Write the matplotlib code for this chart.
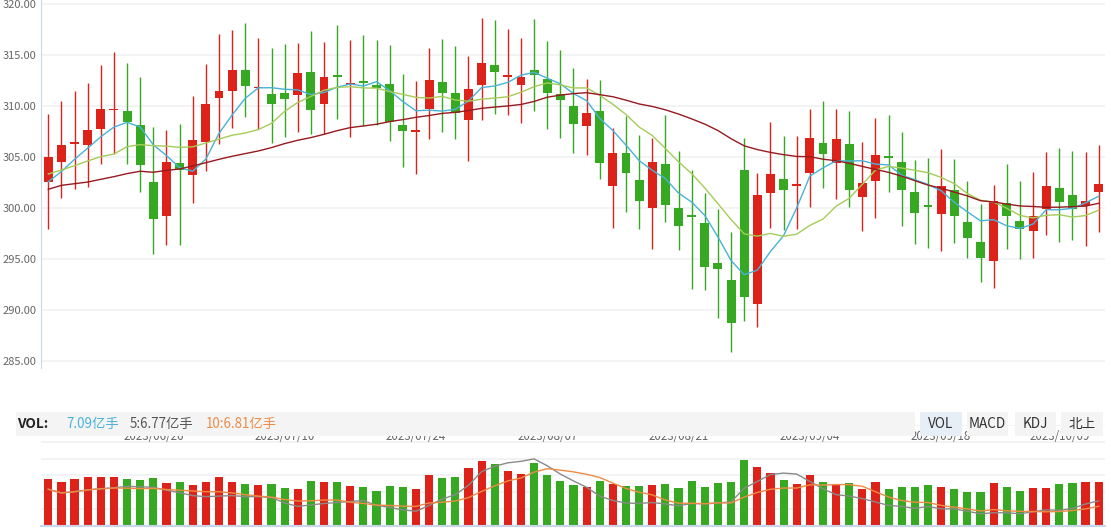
import matplotlib
matplotlib.use("Agg")
import matplotlib.pyplot as plt
import numpy as np
import pandas as pd
from matplotlib.patches import Rectangle

plt.rcParams['font.family'] = ['Noto Sans CJK SC', 'DejaVu Sans']

# daily candles (red = up, green = down)
opens = [302.6, 304.57, 306.35, 306.2, 307.8, 309.6, 309.55, 308.15, 302.55, 299.2,
         304.4, 303.3, 306.5, 310.85, 311.45, 313.55, 311.75, 311.25, 311.35, 311.15,
         313.35, 310.25, 313.05, 312.05, 312.35, 312.05, 312.2, 308.15, 307.45, 309.75,
         312.4, 311.3, 308.7, 312.05, 314.05, 312.9, 312.1, 313.55, 312.7, 311.25,
         310.05, 308.1, 309.55, 302.2, 305.4, 302.75, 300.0, 304.35, 300.05, 299.3,
         298.55, 294.6, 292.95, 303.75, 290.65, 301.45, 302.85, 302.2, 303.5, 306.4,
         304.45, 306.3, 301.15, 302.7, 305.05, 304.55, 301.6, 300.3, 299.45, 301.8,
         298.65, 296.7, 294.85, 300.5, 298.75, 297.8, 299.95, 302.0, 301.3, 300.25, 301.55]
closes = [305.0, 306.17, 306.45, 307.7, 309.75, 309.75, 308.45, 304.2, 298.95, 304.5,
          303.8, 306.7, 310.2, 311.5, 313.55, 311.95, 311.85, 310.25, 310.75, 313.25,
          309.65, 312.85, 312.9, 312.25, 312.3, 311.75, 308.45, 307.6, 307.7, 312.6,
          311.3, 309.3, 311.7, 314.25, 313.4, 313.05, 312.85, 313.1, 311.35, 310.65,
          308.3, 309.35, 304.4, 305.4, 303.5, 300.75, 304.55, 300.35, 298.3, 299.1,
          294.2, 294.0, 288.8, 291.35, 301.3, 303.35, 301.8, 302.4, 306.9, 305.35,
          306.8, 301.75, 302.5, 305.25, 304.95, 301.75, 299.55, 300.15, 302.2, 299.25,
          297.1, 295.15, 300.7, 299.2, 298.0, 299.2, 302.2, 300.65, 299.95, 300.7, 302.4]
highs = [309.25, 310.5, 311.5, 312.3, 314.05, 315.3, 314.25, 312.9, 307.95, 307.7,
         308.3, 311.0, 314.15, 317.1, 317.5, 318.2, 316.65, 315.7, 316.1, 316.25,
         317.4, 316.35, 317.95, 316.45, 317.0, 316.45, 316.0, 313.15, 312.5, 315.7,
         316.6, 315.9, 314.95, 318.65, 318.45, 317.6, 316.7, 318.55, 316.4, 315.5,
         313.75, 312.7, 312.6, 307.85, 309.05, 307.2, 306.9, 309.15, 305.6, 303.75,
         301.5, 299.95, 297.7, 306.9, 303.45, 308.45, 307.1, 307.1, 309.75, 310.5,
         309.75, 309.55, 306.5, 308.85, 309.15, 307.5, 304.75, 304.9, 305.8, 304.85,
         302.7, 300.4, 302.3, 304.35, 302.7, 303.55, 305.5, 305.9, 305.6, 305.5, 306.2]
lows = [297.95, 301.0, 301.9, 302.05, 304.3, 305.3, 304.3, 301.6, 295.55, 296.4,
        296.4, 300.5, 303.7, 306.3, 307.9, 308.9, 307.75, 306.4, 307.0, 307.5,
        307.3, 307.3, 308.8, 306.95, 308.1, 308.2, 306.55, 304.0, 303.35, 306.75,
        307.5, 306.75, 304.65, 308.7, 309.2, 309.1, 308.4, 309.55, 307.8, 306.85,
        305.45, 305.25, 302.9, 298.1, 299.65, 298.0, 296.05, 298.7, 295.95, 292.1,
        292.0, 289.25, 285.95, 288.9, 288.4, 298.1, 297.9, 298.0, 300.15, 302.0,
        300.95, 300.15, 297.8, 299.0, 301.55, 298.3, 296.45, 296.15, 295.85, 296.55,
        295.15, 292.8, 292.2, 296.0, 295.05, 295.15, 297.4, 296.65, 296.9, 296.35, 297.7]
# volume, 亿手
volumes = [7.52, 7.04, 7.52, 7.84, 7.84, 7.84, 7.52, 7.36, 7.68, 6.88,
           7.04, 6.56, 7.04, 7.84, 7.04, 6.72, 6.56, 6.72, 6.08, 5.92,
           7.2, 7.04, 7.04, 6.4, 6.24, 5.6, 6.4, 6.24, 5.92, 8.16,
           7.68, 7.84, 9.28, 10.4, 9.92, 8.8, 8.32, 10.08, 8.16, 7.2,
           6.56, 6.24, 7.2, 6.72, 6.4, 6.4, 6.56, 6.72, 6.08, 7.2,
           6.24, 6.88, 7.04, 10.56, 9.44, 8.48, 7.36, 6.72, 8.16, 7.04,
           6.56, 6.88, 5.92, 7.04, 5.92, 6.24, 6.24, 6.56, 6.24, 5.92,
           5.44, 5.44, 6.88, 6.24, 5.6, 6.08, 6.08, 6.72, 6.88, 7.04, 7.09]

# moving-average values before a full window exists
ma5_head = [302.6, 303.6, 304.8, 305.9]
ma10_head = [303.36, 303.75, 304.18, 304.64, 305.06, 305.32, 306.04, 306.24, 306.14]
ma30_head = [301.86, 302.25, 302.41, 302.57, 302.84, 303.1, 303.4, 303.63, 303.53, 303.72,
             303.85, 304.15, 304.47, 304.8, 305.1, 305.36, 305.62, 305.95, 306.34, 306.67,
             306.93, 307.25, 307.61, 307.91, 308.07, 308.24, 308.5, 308.69, 308.92]

date_pos = [8, 18, 28, 38, 48, 58, 68, 77]
date_labels = ["2023/06/26", "2023/07/10", "2023/07/24", "2023/08/07",
               "2023/08/21", "2023/09/04", "2023/09/18", "2023/10/09"]

RED = "#dd2219"
GREEN = "#37a822"

W, H = 1111, 530
fig = plt.figure(figsize=(W / 100, H / 100), dpi=100)


def px_box(x0, y0, x1, y1):
    return [x0 / W, 1 - y1 / H, (x1 - x0) / W, (y1 - y0) / H]


o = np.array(opens)
c = np.array(closes)
x = np.arange(len(c))
colors = np.where(c >= o, RED, GREEN)

# ---- price panel ----
ax = fig.add_axes(px_box(41, 0, 1105, 368))
ax.vlines(x, lows, highs, colors=colors, linewidth=1.0, zorder=2)
ax.bar(x, np.maximum(np.abs(c - o), 0.15), bottom=np.minimum(o, c), width=0.68,
       color=colors, zorder=3)


def moving_avg(n, head):
    ma = pd.Series(c).rolling(n).mean().to_numpy()
    ma[:n - 1] = head
    return ma


ax.plot(x, moving_avg(5, ma5_head), color="#48b3d9", lw=1.0, zorder=4)
ax.plot(x, moving_avg(10, ma10_head), color="#a5cc58", lw=1.0, zorder=4)
ax.plot(x, moving_avg(30, ma30_head), color="#961a1f", lw=1.0, zorder=4)

ax.set_xlim(-0.556, 80.48)
ax.set_ylim(284.34, 320.42)
ax.set_yticks(np.arange(285, 321, 5))
ax.set_yticklabels([f"{v:.2f}" for v in np.arange(285, 321, 5)], color="#666666", fontsize=8)
ax.set_xticks([])
ax.tick_params(axis="y", length=0, pad=3)
ax.grid(axis="y", color="#f1f2f5", lw=1.3, zorder=0)
for s in ["top", "right", "bottom"]:
    ax.spines[s].set_visible(False)
ax.spines["left"].set_color("#ccd6eb")

# ---- volume panel ----
axv = fig.add_axes(px_box(41, 424.5, 1105, 526))
axv.bar(x, volumes, width=0.62, color=colors, zorder=2)
axv.set_xlim(-0.556, 80.48)
axv.set_ylim(0, 16.24)
axv.set_yticks(np.arange(2.7, 16.3, 2.7))
axv.set_yticklabels([])
axv.set_xticks([])
axv.tick_params(length=0)
axv.grid(axis="y", color="#f1f2f5", lw=1.3, zorder=0)
for s in ["top", "right", "left"]:
    axv.spines[s].set_visible(False)
axv.spines["bottom"].set_color("#ccd6eb")
axv.spines["bottom"].set_linewidth(1.5)

for p, lab in zip(date_pos, date_labels):
    axv.text(p, 0.877, lab, transform=axv.get_xaxis_transform(), ha="center",
             va="center", fontsize=8.3, color="#666666")

# volume MAs on their own scale
axm = axv.twinx()
vol = pd.Series(volumes)
axm.plot(x, vol.rolling(5, min_periods=1).mean(), color="#8a8a8a", lw=1.0)
axm.plot(x, vol.rolling(10, min_periods=1).mean(), color="#ef8a45", lw=1.0)
axm.set_ylim(5.12, 11.75)
axm.set_yticks([])
for s in axm.spines.values():
    s.set_visible(False)

# ---- header bar ----
fig.add_artist(Rectangle((16 / W, 1 - 436 / H), 899 / W, 24 / H, transform=fig.transFigure,
                         facecolor="#f4f4f4", edgecolor="none", zorder=5))
yc = 1 - 424 / H
fig.text(17 / W, yc, "VOL:", fontsize=9.8, fontweight="bold", color="#222222", va="center", zorder=6)
fig.text(66 / W, yc, "7.09亿手", fontsize=9.6, color="#48b3d9", va="center", zorder=6)
fig.text(130 / W, yc, "5:6.77亿手", fontsize=9.6, color="#555555", va="center", zorder=6)
fig.text(206 / W, yc, "10:6.81亿手", fontsize=9.6, color="#ef8a45", va="center", zorder=6)

buttons = [("VOL", 920, 962, "#e6eef8"), ("MACD", 967, 1008, "#f4f4f4"),
           ("KDJ", 1015, 1056, "#f4f4f4"), ("北上", 1061, 1103, "#f4f4f4")]
for lab, bx0, bx1, bg in buttons:
    fig.add_artist(Rectangle((bx0 / W, 1 - 436 / H), (bx1 - bx0) / W, 24 / H,
                             transform=fig.transFigure, facecolor=bg, edgecolor="none", zorder=5))
    fig.text((bx0 + bx1) / 2 / W, yc, lab, fontsize=9.8, color="#333333",
             ha="center", va="center", zorder=6)

fig.savefig("out.png", dpi=100)
